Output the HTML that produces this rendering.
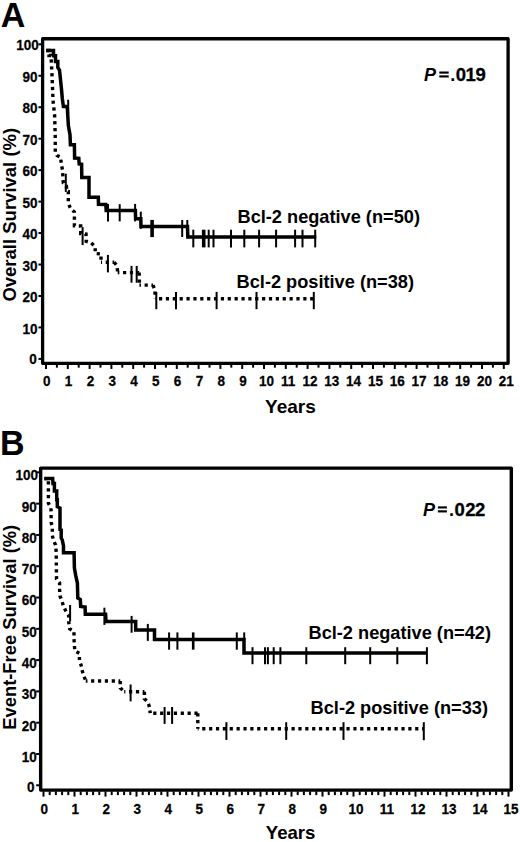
<!DOCTYPE html>
<html><head><meta charset="utf-8"><style>
html,body{margin:0;padding:0;background:#fff;}
body{width:520px;height:842px;overflow:hidden;}
svg{display:block;}
#w{width:520px;height:842px;}
text{font-family:"Liberation Sans",sans-serif;font-weight:bold;fill:#000;}
.tl{font-size:13.5px;}
.lg{font-size:18.2px;}
.pl{font-size:34px;}
.pv{font-size:18px;}
.pd{font-size:18.5px;stroke:#000;stroke-width:0.3px;}
.tl{stroke:#000;stroke-width:0.25px;}
.sol{fill:none;stroke:#000;stroke-width:3.5;stroke-linejoin:miter;stroke-linecap:butt;}
.dot{fill:none;stroke:#000;stroke-width:3.4;stroke-linejoin:miter;stroke-linecap:butt;stroke-dasharray:3.2 3.67;}
line{stroke:#000;}
</style></head><body>
<div id="w"><svg width="520" height="842" viewBox="0 0 520 842">
<text class="pl" transform="translate(0.75,26.6) scale(1,1.05)">A</text>
<rect x="42.6" y="38.75" width="465.5" height="324.55" fill="none" stroke="#000" stroke-width="3.3" stroke-linejoin="round"/>
<line x1="38.45" y1="358.9" x2="41.45" y2="358.9" stroke-width="2"/>
<text class="tl" text-anchor="end" transform="translate(36.75,363.8) scale(1,1.06)">0</text>
<line x1="38.45" y1="327.44" x2="41.45" y2="327.44" stroke-width="2"/>
<text class="tl" text-anchor="end" transform="translate(37.55,333.54) scale(1,1.06)">10</text>
<line x1="38.45" y1="295.98" x2="41.45" y2="295.98" stroke-width="2"/>
<text class="tl" text-anchor="end" transform="translate(37.55,302.08) scale(1,1.06)">20</text>
<line x1="38.45" y1="264.52" x2="41.45" y2="264.52" stroke-width="2"/>
<text class="tl" text-anchor="end" transform="translate(37.55,270.62) scale(1,1.06)">30</text>
<line x1="38.45" y1="233.06" x2="41.45" y2="233.06" stroke-width="2"/>
<text class="tl" text-anchor="end" transform="translate(37.55,239.16) scale(1,1.06)">40</text>
<line x1="38.45" y1="201.6" x2="41.45" y2="201.6" stroke-width="2"/>
<text class="tl" text-anchor="end" transform="translate(37.55,207.7) scale(1,1.06)">50</text>
<line x1="38.45" y1="170.14" x2="41.45" y2="170.14" stroke-width="2"/>
<text class="tl" text-anchor="end" transform="translate(37.55,176.24) scale(1,1.06)">60</text>
<line x1="38.45" y1="138.68" x2="41.45" y2="138.68" stroke-width="2"/>
<text class="tl" text-anchor="end" transform="translate(37.55,144.78) scale(1,1.06)">70</text>
<line x1="38.45" y1="107.22" x2="41.45" y2="107.22" stroke-width="2"/>
<text class="tl" text-anchor="end" transform="translate(37.55,113.32) scale(1,1.06)">80</text>
<line x1="38.45" y1="75.76" x2="41.45" y2="75.76" stroke-width="2"/>
<text class="tl" text-anchor="end" transform="translate(37.55,81.86) scale(1,1.06)">90</text>
<line x1="38.45" y1="44.3" x2="41.45" y2="44.3" stroke-width="2"/>
<text class="tl" text-anchor="end" transform="translate(38.85,50.4) scale(1,1.06)">100</text>
<line x1="46" y1="364.45" x2="46" y2="368.95" stroke-width="2"/>
<text class="tl" text-anchor="middle" transform="translate(46.8,385.8) scale(1,1.06)">0</text>
<line x1="56.9" y1="364.45" x2="56.9" y2="367.65" stroke-width="2"/>
<line x1="67.8" y1="364.45" x2="67.8" y2="368.95" stroke-width="2"/>
<text class="tl" text-anchor="middle" transform="translate(68.6,385.8) scale(1,1.06)">1</text>
<line x1="78.7" y1="364.45" x2="78.7" y2="367.65" stroke-width="2"/>
<line x1="89.6" y1="364.45" x2="89.6" y2="368.95" stroke-width="2"/>
<text class="tl" text-anchor="middle" transform="translate(90.4,385.8) scale(1,1.06)">2</text>
<line x1="100.5" y1="364.45" x2="100.5" y2="367.65" stroke-width="2"/>
<line x1="111.4" y1="364.45" x2="111.4" y2="368.95" stroke-width="2"/>
<text class="tl" text-anchor="middle" transform="translate(112.2,385.8) scale(1,1.06)">3</text>
<line x1="122.3" y1="364.45" x2="122.3" y2="367.65" stroke-width="2"/>
<line x1="133.2" y1="364.45" x2="133.2" y2="368.95" stroke-width="2"/>
<text class="tl" text-anchor="middle" transform="translate(134,385.8) scale(1,1.06)">4</text>
<line x1="144.1" y1="364.45" x2="144.1" y2="367.65" stroke-width="2"/>
<line x1="155" y1="364.45" x2="155" y2="368.95" stroke-width="2"/>
<text class="tl" text-anchor="middle" transform="translate(155.8,385.8) scale(1,1.06)">5</text>
<line x1="165.9" y1="364.45" x2="165.9" y2="367.65" stroke-width="2"/>
<line x1="176.8" y1="364.45" x2="176.8" y2="368.95" stroke-width="2"/>
<text class="tl" text-anchor="middle" transform="translate(177.6,385.8) scale(1,1.06)">6</text>
<line x1="187.7" y1="364.45" x2="187.7" y2="367.65" stroke-width="2"/>
<line x1="198.6" y1="364.45" x2="198.6" y2="368.95" stroke-width="2"/>
<text class="tl" text-anchor="middle" transform="translate(199.4,385.8) scale(1,1.06)">7</text>
<line x1="209.5" y1="364.45" x2="209.5" y2="367.65" stroke-width="2"/>
<line x1="220.4" y1="364.45" x2="220.4" y2="368.95" stroke-width="2"/>
<text class="tl" text-anchor="middle" transform="translate(221.2,385.8) scale(1,1.06)">8</text>
<line x1="231.3" y1="364.45" x2="231.3" y2="367.65" stroke-width="2"/>
<line x1="242.2" y1="364.45" x2="242.2" y2="368.95" stroke-width="2"/>
<text class="tl" text-anchor="middle" transform="translate(243,385.8) scale(1,1.06)">9</text>
<line x1="253.1" y1="364.45" x2="253.1" y2="367.65" stroke-width="2"/>
<line x1="264" y1="364.45" x2="264" y2="368.95" stroke-width="2"/>
<text class="tl" text-anchor="middle" transform="translate(266.4,385.8) scale(1,1.06)">10</text>
<line x1="274.9" y1="364.45" x2="274.9" y2="367.65" stroke-width="2"/>
<line x1="285.8" y1="364.45" x2="285.8" y2="368.95" stroke-width="2"/>
<text class="tl" text-anchor="middle" transform="translate(288.2,385.8) scale(1,1.06)">11</text>
<line x1="296.7" y1="364.45" x2="296.7" y2="367.65" stroke-width="2"/>
<line x1="307.6" y1="364.45" x2="307.6" y2="368.95" stroke-width="2"/>
<text class="tl" text-anchor="middle" transform="translate(310,385.8) scale(1,1.06)">12</text>
<line x1="318.5" y1="364.45" x2="318.5" y2="367.65" stroke-width="2"/>
<line x1="329.4" y1="364.45" x2="329.4" y2="368.95" stroke-width="2"/>
<text class="tl" text-anchor="middle" transform="translate(331.8,385.8) scale(1,1.06)">13</text>
<line x1="340.3" y1="364.45" x2="340.3" y2="367.65" stroke-width="2"/>
<line x1="351.2" y1="364.45" x2="351.2" y2="368.95" stroke-width="2"/>
<text class="tl" text-anchor="middle" transform="translate(353.6,385.8) scale(1,1.06)">14</text>
<line x1="362.1" y1="364.45" x2="362.1" y2="367.65" stroke-width="2"/>
<line x1="373" y1="364.45" x2="373" y2="368.95" stroke-width="2"/>
<text class="tl" text-anchor="middle" transform="translate(375.4,385.8) scale(1,1.06)">15</text>
<line x1="383.9" y1="364.45" x2="383.9" y2="367.65" stroke-width="2"/>
<line x1="394.8" y1="364.45" x2="394.8" y2="368.95" stroke-width="2"/>
<text class="tl" text-anchor="middle" transform="translate(397.2,385.8) scale(1,1.06)">16</text>
<line x1="405.7" y1="364.45" x2="405.7" y2="367.65" stroke-width="2"/>
<line x1="416.6" y1="364.45" x2="416.6" y2="368.95" stroke-width="2"/>
<text class="tl" text-anchor="middle" transform="translate(419,385.8) scale(1,1.06)">17</text>
<line x1="427.5" y1="364.45" x2="427.5" y2="367.65" stroke-width="2"/>
<line x1="438.4" y1="364.45" x2="438.4" y2="368.95" stroke-width="2"/>
<text class="tl" text-anchor="middle" transform="translate(440.8,385.8) scale(1,1.06)">18</text>
<line x1="449.3" y1="364.45" x2="449.3" y2="367.65" stroke-width="2"/>
<line x1="460.2" y1="364.45" x2="460.2" y2="368.95" stroke-width="2"/>
<text class="tl" text-anchor="middle" transform="translate(462.6,385.8) scale(1,1.06)">19</text>
<line x1="471.1" y1="364.45" x2="471.1" y2="367.65" stroke-width="2"/>
<line x1="482" y1="364.45" x2="482" y2="368.95" stroke-width="2"/>
<text class="tl" text-anchor="middle" transform="translate(484.4,385.8) scale(1,1.06)">20</text>
<line x1="492.9" y1="364.45" x2="492.9" y2="367.65" stroke-width="2"/>
<line x1="503.8" y1="364.45" x2="503.8" y2="368.95" stroke-width="2"/>
<text class="tl" text-anchor="middle" transform="translate(506.2,385.8) scale(1,1.06)">21</text>
<text class="lg" style="font-size:18.5px" transform="translate(16.2,301.6) rotate(-90)">Overall Survival (%)</text>
<text x="290.4" y="413.1" class="lg" style="font-size:19px" text-anchor="middle">Years</text>
<text y="80.5" class="pv"><tspan x="424" font-style="italic">P</tspan><tspan x="450.3">.</tspan><tspan x="455.7 465.6 475.5" class="pd">019</tspan></text>
<rect x="439.3" y="71.5" width="9.4" height="2.15"/><rect x="439.3" y="75.35" width="9.4" height="2.15"/>
<text x="237.5" y="223.2" class="lg">Bcl-2 negative (n=50)</text>
<text x="236.6" y="288.1" class="lg">Bcl-2 positive (n=38)</text>
<polyline points="46.2,50.5 53.5,50.5 53.5,55.8 55.5,55.8 55.5,61.6 57.8,61.6 57.8,67.4 59.5,70 61.5,89.2 62.3,98.5 63.4,106.5 67.2,106.5 68.4,125.8 70,134.6 70.4,144.8 74.4,144.8 74.6,158 78.8,158.3 79.2,164 81.6,164.3 81.8,177.5 89,177.5 89,197.3 98.3,197.3 98.5,204.2 105.8,204.5 106.2,210.6 135.4,210.6 135.6,218.8 140.8,218.8 141,226.6 187.5,226.6 187.8,236.9 316.3,236.9" class="sol"/>
<polyline points="46.2,50.5 49,50.5 49,55.5 51,55.5 52,75 53,100 54.6,115 55.2,135 55.3,152 57,155.5 60.5,157 61.5,165 62.5,170 63.3,183 66.4,186 66.8,191.3 68.3,191.5 68.3,203 70.6,208.7 74.4,212 74.4,225.8 80.7,226 80.7,233.6 86,234 86.2,241.3 91.2,243 95.2,246.5 95.2,253.5 101,254 101,262.3" class="dot"/>
<polyline points="101,262.3 114.2,262.3" class="dot" stroke-dashoffset="2.17"/>
<polyline points="114.2,262.3 117.1,266 117.7,272.6" class="dot"/>
<polyline points="117.7,272.6 139.2,272.6" class="dot" stroke-dashoffset="1.57"/>
<polyline points="139.2,272.6 139.4,285.1" class="dot"/>
<polyline points="139.4,285.1 153,285.1" class="dot" stroke-dashoffset="1.67"/>
<polyline points="153,285.1 155,290.4 155,298.7" class="dot"/>
<polyline points="155,298.7 313.8,298.7" class="dot" stroke-dashoffset="2.87"/>
<line x1="68.2" y1="99.7" x2="68.2" y2="113.4" stroke-width="2"/>
<line x1="108" y1="203.9" x2="108" y2="221.4" stroke-width="2"/>
<line x1="119.7" y1="204.2" x2="119.7" y2="221.4" stroke-width="2"/>
<line x1="135.1" y1="203.9" x2="135.1" y2="221.4" stroke-width="2"/>
<line x1="140.8" y1="211.7" x2="140.8" y2="228.9" stroke-width="2"/>
<line x1="152.1" y1="219.9" x2="152.1" y2="237.1" stroke-width="3.6"/>
<line x1="182.2" y1="220" x2="182.2" y2="237" stroke-width="2"/>
<line x1="187.3" y1="220" x2="187.3" y2="237" stroke-width="2"/>
<line x1="193.3" y1="229.7" x2="193.3" y2="247.4" stroke-width="2"/>
<line x1="203.7" y1="229.7" x2="203.7" y2="247.4" stroke-width="3.6"/>
<line x1="208.7" y1="229.7" x2="208.7" y2="247.4" stroke-width="2"/>
<line x1="213.5" y1="229.7" x2="213.5" y2="247.4" stroke-width="2"/>
<line x1="231" y1="229.7" x2="231" y2="247.4" stroke-width="2"/>
<line x1="244.3" y1="229.7" x2="244.3" y2="247.4" stroke-width="2"/>
<line x1="259.1" y1="229.7" x2="259.1" y2="247.4" stroke-width="2"/>
<line x1="276.1" y1="229.7" x2="276.1" y2="247.4" stroke-width="2"/>
<line x1="295.1" y1="229.7" x2="295.1" y2="247.4" stroke-width="2"/>
<line x1="302.5" y1="229.7" x2="302.5" y2="247.4" stroke-width="2"/>
<line x1="315.2" y1="229.7" x2="315.2" y2="247.4" stroke-width="2"/>
<line x1="65.8" y1="173.7" x2="65.8" y2="191.9" stroke-width="2"/>
<line x1="82.6" y1="227.1" x2="82.6" y2="245.1" stroke-width="2"/>
<line x1="107.9" y1="254.9" x2="107.9" y2="272.4" stroke-width="2"/>
<line x1="131.5" y1="265.9" x2="131.5" y2="282.7" stroke-width="2"/>
<line x1="136.7" y1="265.9" x2="136.7" y2="282.7" stroke-width="2"/>
<line x1="156.3" y1="291.9" x2="156.3" y2="309.2" stroke-width="2"/>
<line x1="176" y1="291.9" x2="176" y2="309.2" stroke-width="2"/>
<line x1="216.6" y1="291.9" x2="216.6" y2="309.2" stroke-width="2"/>
<line x1="256.5" y1="291.9" x2="256.5" y2="309.2" stroke-width="2"/>
<line x1="313.8" y1="291.9" x2="313.8" y2="309.2" stroke-width="2"/>
<text class="pl" transform="translate(0,455.1) scale(1,1.05)">B</text>
<rect x="40.65" y="468.1" width="470.65" height="322" fill="none" stroke="#000" stroke-width="3.4" stroke-linejoin="round"/>
<line x1="36.15" y1="785.29" x2="39.45" y2="785.29" stroke-width="2"/>
<text class="tl" text-anchor="end" transform="translate(34.45,792.49) scale(1,1.06)">0</text>
<line x1="36.15" y1="754" x2="39.45" y2="754" stroke-width="2"/>
<text class="tl" text-anchor="end" transform="translate(36.75,761.9) scale(1,1.06)">10</text>
<line x1="36.15" y1="722.7" x2="39.45" y2="722.7" stroke-width="2"/>
<text class="tl" text-anchor="end" transform="translate(36.75,730.6) scale(1,1.06)">20</text>
<line x1="36.15" y1="691.41" x2="39.45" y2="691.41" stroke-width="2"/>
<text class="tl" text-anchor="end" transform="translate(36.75,699.31) scale(1,1.06)">30</text>
<line x1="36.15" y1="660.11" x2="39.45" y2="660.11" stroke-width="2"/>
<text class="tl" text-anchor="end" transform="translate(36.75,668.01) scale(1,1.06)">40</text>
<line x1="36.15" y1="628.82" x2="39.45" y2="628.82" stroke-width="2"/>
<text class="tl" text-anchor="end" transform="translate(36.75,636.72) scale(1,1.06)">50</text>
<line x1="36.15" y1="597.53" x2="39.45" y2="597.53" stroke-width="2"/>
<text class="tl" text-anchor="end" transform="translate(36.75,605.43) scale(1,1.06)">60</text>
<line x1="36.15" y1="566.23" x2="39.45" y2="566.23" stroke-width="2"/>
<text class="tl" text-anchor="end" transform="translate(36.75,574.13) scale(1,1.06)">70</text>
<line x1="36.15" y1="534.94" x2="39.45" y2="534.94" stroke-width="2"/>
<text class="tl" text-anchor="end" transform="translate(36.75,542.84) scale(1,1.06)">80</text>
<line x1="36.15" y1="503.64" x2="39.45" y2="503.64" stroke-width="2"/>
<text class="tl" text-anchor="end" transform="translate(36.75,511.54) scale(1,1.06)">90</text>
<line x1="36.15" y1="472.35" x2="39.45" y2="472.35" stroke-width="2"/>
<text class="tl" text-anchor="end" transform="translate(38.05,480.25) scale(1,1.06)">100</text>
<line x1="43.5" y1="791.3" x2="43.5" y2="796.6" stroke-width="2"/>
<text class="tl" text-anchor="middle" transform="translate(44.3,814.4) scale(1,1.06)">0</text>
<line x1="49.7" y1="791.3" x2="49.7" y2="795.1" stroke-width="2"/>
<line x1="55.9" y1="791.3" x2="55.9" y2="795.1" stroke-width="2"/>
<line x1="62.1" y1="791.3" x2="62.1" y2="795.1" stroke-width="2"/>
<line x1="68.3" y1="791.3" x2="68.3" y2="795.1" stroke-width="2"/>
<line x1="74.5" y1="791.3" x2="74.5" y2="796.6" stroke-width="2"/>
<text class="tl" text-anchor="middle" transform="translate(75.3,814.4) scale(1,1.06)">1</text>
<line x1="80.7" y1="791.3" x2="80.7" y2="795.1" stroke-width="2"/>
<line x1="86.9" y1="791.3" x2="86.9" y2="795.1" stroke-width="2"/>
<line x1="93.1" y1="791.3" x2="93.1" y2="795.1" stroke-width="2"/>
<line x1="99.3" y1="791.3" x2="99.3" y2="795.1" stroke-width="2"/>
<line x1="105.5" y1="791.3" x2="105.5" y2="796.6" stroke-width="2"/>
<text class="tl" text-anchor="middle" transform="translate(106.3,814.4) scale(1,1.06)">2</text>
<line x1="111.7" y1="791.3" x2="111.7" y2="795.1" stroke-width="2"/>
<line x1="117.9" y1="791.3" x2="117.9" y2="795.1" stroke-width="2"/>
<line x1="124.1" y1="791.3" x2="124.1" y2="795.1" stroke-width="2"/>
<line x1="130.3" y1="791.3" x2="130.3" y2="795.1" stroke-width="2"/>
<line x1="136.5" y1="791.3" x2="136.5" y2="796.6" stroke-width="2"/>
<text class="tl" text-anchor="middle" transform="translate(137.3,814.4) scale(1,1.06)">3</text>
<line x1="142.7" y1="791.3" x2="142.7" y2="795.1" stroke-width="2"/>
<line x1="148.9" y1="791.3" x2="148.9" y2="795.1" stroke-width="2"/>
<line x1="155.1" y1="791.3" x2="155.1" y2="795.1" stroke-width="2"/>
<line x1="161.3" y1="791.3" x2="161.3" y2="795.1" stroke-width="2"/>
<line x1="167.5" y1="791.3" x2="167.5" y2="796.6" stroke-width="2"/>
<text class="tl" text-anchor="middle" transform="translate(168.3,814.4) scale(1,1.06)">4</text>
<line x1="173.7" y1="791.3" x2="173.7" y2="795.1" stroke-width="2"/>
<line x1="179.9" y1="791.3" x2="179.9" y2="795.1" stroke-width="2"/>
<line x1="186.1" y1="791.3" x2="186.1" y2="795.1" stroke-width="2"/>
<line x1="192.3" y1="791.3" x2="192.3" y2="795.1" stroke-width="2"/>
<line x1="198.5" y1="791.3" x2="198.5" y2="796.6" stroke-width="2"/>
<text class="tl" text-anchor="middle" transform="translate(199.3,814.4) scale(1,1.06)">5</text>
<line x1="204.7" y1="791.3" x2="204.7" y2="795.1" stroke-width="2"/>
<line x1="210.9" y1="791.3" x2="210.9" y2="795.1" stroke-width="2"/>
<line x1="217.1" y1="791.3" x2="217.1" y2="795.1" stroke-width="2"/>
<line x1="223.3" y1="791.3" x2="223.3" y2="795.1" stroke-width="2"/>
<line x1="229.5" y1="791.3" x2="229.5" y2="796.6" stroke-width="2"/>
<text class="tl" text-anchor="middle" transform="translate(230.3,814.4) scale(1,1.06)">6</text>
<line x1="235.7" y1="791.3" x2="235.7" y2="795.1" stroke-width="2"/>
<line x1="241.9" y1="791.3" x2="241.9" y2="795.1" stroke-width="2"/>
<line x1="248.1" y1="791.3" x2="248.1" y2="795.1" stroke-width="2"/>
<line x1="254.3" y1="791.3" x2="254.3" y2="795.1" stroke-width="2"/>
<line x1="260.5" y1="791.3" x2="260.5" y2="796.6" stroke-width="2"/>
<text class="tl" text-anchor="middle" transform="translate(261.3,814.4) scale(1,1.06)">7</text>
<line x1="266.7" y1="791.3" x2="266.7" y2="795.1" stroke-width="2"/>
<line x1="272.9" y1="791.3" x2="272.9" y2="795.1" stroke-width="2"/>
<line x1="279.1" y1="791.3" x2="279.1" y2="795.1" stroke-width="2"/>
<line x1="285.3" y1="791.3" x2="285.3" y2="795.1" stroke-width="2"/>
<line x1="291.5" y1="791.3" x2="291.5" y2="796.6" stroke-width="2"/>
<text class="tl" text-anchor="middle" transform="translate(292.3,814.4) scale(1,1.06)">8</text>
<line x1="297.7" y1="791.3" x2="297.7" y2="795.1" stroke-width="2"/>
<line x1="303.9" y1="791.3" x2="303.9" y2="795.1" stroke-width="2"/>
<line x1="310.1" y1="791.3" x2="310.1" y2="795.1" stroke-width="2"/>
<line x1="316.3" y1="791.3" x2="316.3" y2="795.1" stroke-width="2"/>
<line x1="322.5" y1="791.3" x2="322.5" y2="796.6" stroke-width="2"/>
<text class="tl" text-anchor="middle" transform="translate(323.3,814.4) scale(1,1.06)">9</text>
<line x1="328.7" y1="791.3" x2="328.7" y2="795.1" stroke-width="2"/>
<line x1="334.9" y1="791.3" x2="334.9" y2="795.1" stroke-width="2"/>
<line x1="341.1" y1="791.3" x2="341.1" y2="795.1" stroke-width="2"/>
<line x1="347.3" y1="791.3" x2="347.3" y2="795.1" stroke-width="2"/>
<line x1="353.5" y1="791.3" x2="353.5" y2="796.6" stroke-width="2"/>
<text class="tl" text-anchor="middle" transform="translate(355.9,814.4) scale(1,1.06)">10</text>
<line x1="359.7" y1="791.3" x2="359.7" y2="795.1" stroke-width="2"/>
<line x1="365.9" y1="791.3" x2="365.9" y2="795.1" stroke-width="2"/>
<line x1="372.1" y1="791.3" x2="372.1" y2="795.1" stroke-width="2"/>
<line x1="378.3" y1="791.3" x2="378.3" y2="795.1" stroke-width="2"/>
<line x1="384.5" y1="791.3" x2="384.5" y2="796.6" stroke-width="2"/>
<text class="tl" text-anchor="middle" transform="translate(386.9,814.4) scale(1,1.06)">11</text>
<line x1="390.7" y1="791.3" x2="390.7" y2="795.1" stroke-width="2"/>
<line x1="396.9" y1="791.3" x2="396.9" y2="795.1" stroke-width="2"/>
<line x1="403.1" y1="791.3" x2="403.1" y2="795.1" stroke-width="2"/>
<line x1="409.3" y1="791.3" x2="409.3" y2="795.1" stroke-width="2"/>
<line x1="415.5" y1="791.3" x2="415.5" y2="796.6" stroke-width="2"/>
<text class="tl" text-anchor="middle" transform="translate(417.9,814.4) scale(1,1.06)">12</text>
<line x1="421.7" y1="791.3" x2="421.7" y2="795.1" stroke-width="2"/>
<line x1="427.9" y1="791.3" x2="427.9" y2="795.1" stroke-width="2"/>
<line x1="434.1" y1="791.3" x2="434.1" y2="795.1" stroke-width="2"/>
<line x1="440.3" y1="791.3" x2="440.3" y2="795.1" stroke-width="2"/>
<line x1="446.5" y1="791.3" x2="446.5" y2="796.6" stroke-width="2"/>
<text class="tl" text-anchor="middle" transform="translate(448.9,814.4) scale(1,1.06)">13</text>
<line x1="452.7" y1="791.3" x2="452.7" y2="795.1" stroke-width="2"/>
<line x1="458.9" y1="791.3" x2="458.9" y2="795.1" stroke-width="2"/>
<line x1="465.1" y1="791.3" x2="465.1" y2="795.1" stroke-width="2"/>
<line x1="471.3" y1="791.3" x2="471.3" y2="795.1" stroke-width="2"/>
<line x1="477.5" y1="791.3" x2="477.5" y2="796.6" stroke-width="2"/>
<text class="tl" text-anchor="middle" transform="translate(479.9,814.4) scale(1,1.06)">14</text>
<line x1="483.7" y1="791.3" x2="483.7" y2="795.1" stroke-width="2"/>
<line x1="489.9" y1="791.3" x2="489.9" y2="795.1" stroke-width="2"/>
<line x1="496.1" y1="791.3" x2="496.1" y2="795.1" stroke-width="2"/>
<line x1="502.3" y1="791.3" x2="502.3" y2="795.1" stroke-width="2"/>
<line x1="508.5" y1="791.3" x2="508.5" y2="796.6" stroke-width="2"/>
<text class="tl" text-anchor="middle" transform="translate(510.9,814.4) scale(1,1.06)">15</text>
<text class="lg" style="font-size:18.35px" transform="translate(15.9,729.7) rotate(-90)">Event-Free Survival (%)</text>
<text x="290.6" y="839.4" class="lg" style="font-size:18.6px" text-anchor="middle">Years</text>
<text y="516" class="pv"><tspan x="423" font-style="italic">P</tspan><tspan x="448.9">.</tspan><tspan x="454.6 465.3 475.0" class="pd">022</tspan></text>
<rect x="437.9" y="506.35" width="9.0" height="2.15"/><rect x="437.9" y="510.3" width="9.0" height="2.15"/>
<text x="308.5" y="639.2" class="lg">Bcl-2 negative (n=42)</text>
<text x="310.6" y="714.2" class="lg">Bcl-2 positive (n=33)</text>
<polyline points="44.3,478.6 52.7,478.6 53,483.5 54.4,483.5 54.4,491 56.7,491 56.7,499.7 57.3,499.7 57.3,506.6 60,508 60,529.6 61.2,530 61.2,538 62.3,540 63.5,546 63.5,552.7 74.1,552.7 74.4,568 75.7,575.4 77.4,583 77.8,598 80.3,599.5 80.7,606.5 85.1,607 85.3,614.3 105.6,614.3 106,621.6 135.7,621.6 135.7,629.9 154.5,629.9 154.5,639.4 244,639.4 244,653 427,653" class="sol"/>
<polyline points="44.3,478.6 48.4,478.6 48.4,503.2 51,507.8 51.2,522.3 52.3,528 52.3,535.4 53.5,540.4 55.6,545 56.2,552 56.5,579 59.6,583 59.6,589.6 60,596 62,601 63.5,606.5 65.8,611 68.7,615.4 68.7,621.6 69.6,628.8 74,631.3 74,638.5 74.4,644.6 74.8,651 79.4,653.3 79.4,660.8 81.2,665.4 82.3,671 84,676.3 85.8,681" class="dot"/>
<polyline points="85.8,681 120.2,681" class="dot" stroke-dashoffset="1.57"/>
<polyline points="120.2,681 120.4,688 124.2,691.7" class="dot"/>
<polyline points="124.2,691.7 144.4,691.7" class="dot" stroke-dashoffset="2.04"/>
<polyline points="144.4,691.7 144.4,698.7 147.9,702.1 149.6,707.3 150.2,713.2" class="dot"/>
<polyline points="150.2,713.2 197.8,713.2" class="dot" stroke-dashoffset="3.85"/>
<polyline points="197.8,713.2 197.8,728.8" class="dot"/>
<polyline points="197.8,728.8 423.8,728.8" class="dot" stroke-dashoffset="2.47"/>
<line x1="104.4" y1="607.7" x2="104.4" y2="624.9" stroke-width="2"/>
<line x1="131.6" y1="615.9" x2="131.6" y2="632.7" stroke-width="2"/>
<line x1="147.8" y1="623.9" x2="147.8" y2="640.9" stroke-width="2"/>
<line x1="169.1" y1="632.4" x2="169.1" y2="649.7" stroke-width="2"/>
<line x1="177.4" y1="632.4" x2="177.4" y2="649.7" stroke-width="2"/>
<line x1="193.2" y1="632.4" x2="193.2" y2="649.7" stroke-width="2.6"/>
<line x1="236.8" y1="632.4" x2="236.8" y2="649.7" stroke-width="2"/>
<line x1="244.2" y1="632.4" x2="244.2" y2="640.4" stroke-width="2"/>
<line x1="252.5" y1="647.2" x2="252.5" y2="664.2" stroke-width="2"/>
<line x1="265" y1="647.2" x2="265" y2="664.2" stroke-width="2"/>
<line x1="267.9" y1="647.2" x2="267.9" y2="664.2" stroke-width="2"/>
<line x1="273.7" y1="647.2" x2="273.7" y2="664.2" stroke-width="2"/>
<line x1="280.4" y1="647.2" x2="280.4" y2="664.2" stroke-width="2"/>
<line x1="306.3" y1="647.2" x2="306.3" y2="664.2" stroke-width="2"/>
<line x1="345.2" y1="647.2" x2="345.2" y2="664.2" stroke-width="2"/>
<line x1="370.2" y1="647.2" x2="370.2" y2="664.2" stroke-width="2"/>
<line x1="397.3" y1="647.2" x2="397.3" y2="664.2" stroke-width="2"/>
<line x1="426.9" y1="647.2" x2="426.9" y2="664.2" stroke-width="2"/>
<line x1="70.1" y1="605" x2="70.1" y2="621.4" stroke-width="2"/>
<line x1="130.6" y1="684.5" x2="130.6" y2="701.4" stroke-width="2"/>
<line x1="164.6" y1="707" x2="164.6" y2="723.9" stroke-width="2"/>
<line x1="172.1" y1="707" x2="172.1" y2="723.9" stroke-width="2"/>
<line x1="226.4" y1="722.2" x2="226.4" y2="739.9" stroke-width="2"/>
<line x1="286.2" y1="722.2" x2="286.2" y2="739.9" stroke-width="2"/>
<line x1="343.5" y1="722.2" x2="343.5" y2="739.9" stroke-width="2"/>
<line x1="423.8" y1="722.2" x2="423.8" y2="740.2" stroke-width="2"/>
</svg></div>
</body></html>
